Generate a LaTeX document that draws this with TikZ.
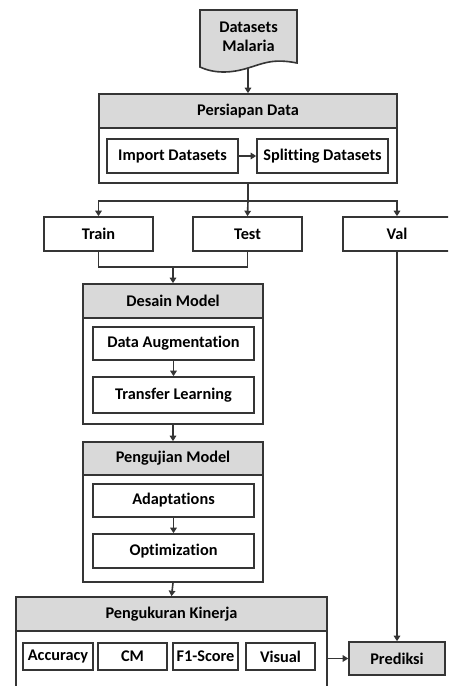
\documentclass[tikz,border=0pt]{standalone}
\usepackage{fontspec}
\setmainfont{Carlito}[Ligatures={NoCommon}]
\usetikzlibrary{arrows.meta}
\definecolor{ln}{HTML}{353535}
\definecolor{hd}{HTML}{D9D9D9}
\begin{document}
\begin{tikzpicture}[x=1pt,y=-1pt,
  line width=1.6pt,
  every node/.style={font=\fontsize{16.3}{18}\selectfont\bfseries, text=black, inner sep=0pt},
  box/.style={draw=ln, fill=white, line width=1.6pt},
  hbox/.style={draw=ln, fill=hd, line width=1.6pt},
  arr/.style={draw=ln, -{Triangle[length=5.5pt,width=6.5pt]}},
  con/.style={draw=ln}]
\useasboundingbox (0,0) rectangle (448,686);
\clip (0,0) rectangle (448,686);
% document shape
\draw[ln, fill=hd] (200,10) -- (297,10) -- (297,63)
  .. controls (272,58) and (262,64) .. (248,68)
  .. controls (232,73) and (215,74) .. (200,67) -- cycle;
\node[align=center, font=\fontsize{16.3}{19.5}\selectfont\bfseries] (ds) at (248.5,37) {Datasets\\Malaria};
\coordinate (dsb) at (248,68);
% Persiapan Data
\node[box, minimum width=298pt, minimum height=89pt] (pd) at (248,138.5) {};
\node[hbox, minimum width=298pt, minimum height=34pt] (pdh) at (248,111) {Persiapan Data};
\node[box, minimum width=131pt, minimum height=34pt] (imp) at (172.5,156) {Import Datasets};
\node[box, minimum width=131pt, minimum height=34pt] (spl) at (322.5,156) {Splitting Datasets};
\draw[arr] (dsb) -- (pdh.north);
\draw[arr] (imp) -- (spl);
% Train Test Val
\node[box, minimum width=109pt, minimum height=34pt] (train) at (98.5,234) {Train};
\node[box, minimum width=109pt, minimum height=34pt] (test) at (247.5,234) {Test};
\node[box, minimum width=108pt, minimum height=34pt] (val) at (397,234) {Val};
\coordinate (j1) at (248,201);
\draw[con] (pd.south) -- (j1);
\draw[arr] (j1) -- (test.north);
\draw[arr] (j1) -| (train.north);
\draw[arr] (j1) -| (val.north);
% Desain Model
\node[box, minimum width=180pt, minimum height=140pt] (dm) at (173,354) {};
\node[hbox, minimum width=180pt, minimum height=34pt] (dmh) at (173,301) {Desain Model};
\node[box, minimum width=161pt, minimum height=33pt] (da) at (173.5,343.5) {Data Augmentation};
\node[box, minimum width=161pt, minimum height=36pt] (tl) at (173.5,395) {Transfer Learning};
\coordinate (j2) at (173,267);
\draw[con] (train.south) |- (j2) -| (test.south);
\draw[arr] (j2) -- (dmh.north);
\draw[arr] (da) -- (tl);
% Pengujian Model
\node[box, minimum width=180pt, minimum height=140pt] (pm) at (173,512) {};
\node[hbox, minimum width=180pt, minimum height=33pt] (pmh) at (173,458.5) {Pengujian Model};
\node[box, minimum width=161pt, minimum height=33pt] (ad) at (173.5,500.5) {Adaptations};
\node[box, minimum width=161pt, minimum height=34pt] (op) at (173.5,551) {Optimization};
\draw[arr] (dm.south) -- (pmh.north);
\draw[arr] (ad) -- (op);
% Pengukuran Kinerja
\node[box, minimum width=311pt, minimum height=93pt] (pk) at (171.5,643.5) {};
\node[hbox, minimum width=311pt, minimum height=34pt] (pkh) at (171.5,614) {Pengukuran Kinerja};
\node[box, minimum width=70pt, minimum height=27pt] (acc) at (58,656.5) {Accuracy};
\node[box, minimum width=69pt, minimum height=27pt] (cm) at (132.5,656.5) {CM};
\node[box, minimum width=65pt, minimum height=27pt] (f1) at (205.5,656.5) {F1-Score};
\node[box, minimum width=69pt, minimum height=27pt] (vis) at (280.5,656.5) {Visual};
\draw[arr] (pm.south) -- (pkh.north);
% Prediksi
\node[hbox, minimum width=96pt, minimum height=33pt] (pr) at (397,658.5) {Prediksi};
\draw[arr] (pr.west -| pk.east) -- (pr.west);
\draw[arr] (val.south) -- (pr.north);
\end{tikzpicture}
\end{document}
